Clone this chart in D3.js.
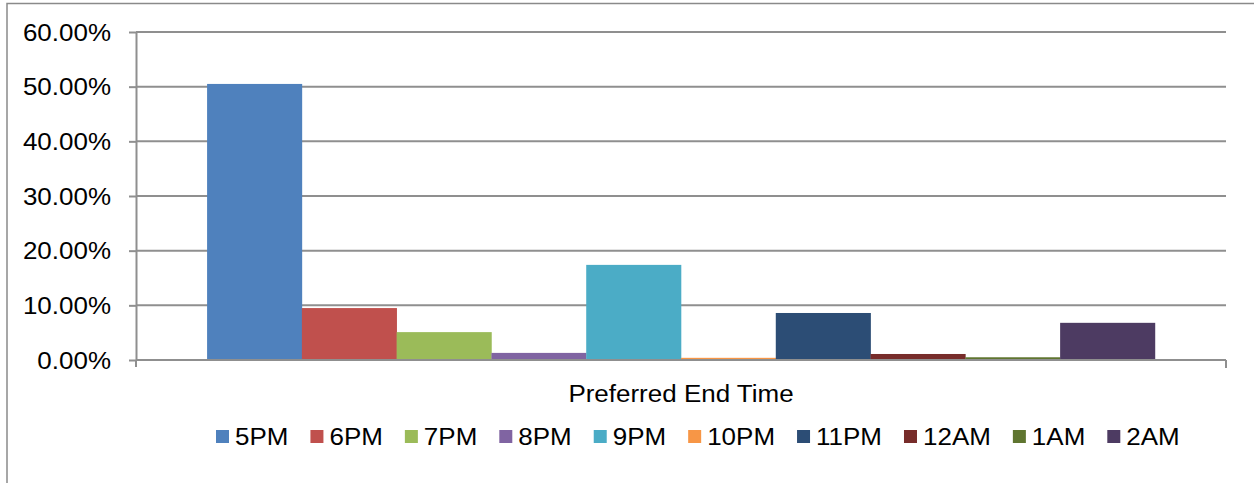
<!DOCTYPE html>
<html><head><meta charset="utf-8">
<script src="https://cdn.jsdelivr.net/npm/d3@7"></script>
<style>
html,body{margin:0;padding:0;background:#fff;}
svg{display:block;}
text{font-family:"Liberation Sans",Arial,sans-serif;fill:#000;}
</style></head>
<body>
<svg id="chart" width="1254" height="483"></svg>
<script>
const category = "Preferred End Time";
const seriesNames = ["5PM","6PM","7PM","8PM","9PM","10PM","11PM","12AM","1AM","2AM"];
const seriesValues = [0.505, 0.095, 0.051, 0.013, 0.174, 0.004, 0.086, 0.011, 0.005, 0.068];
const seriesColors = ["#4F81BD","#C0504D","#9BBB59","#8064A2","#4BACC6","#F79646","#2C4D75","#772C2A","#5F7530","#4D3B62"];
const yTicks = [0, 0.1, 0.2, 0.3, 0.4, 0.5, 0.6];

(function(){
const svg = d3.select("#chart");
const FS = 23, SX = 1.13;
const gridColor = "#8f8f8f";

// outer border
svg.append("path").attr("d","M7,490 L7,3.5 L1260,3.5").attr("fill","none").attr("stroke","#8a8a8a").attr("stroke-width",1.5);

const pLeft = 136, pRight = 1226, pTop = 32, pBottom = 360;
const y = d3.scaleLinear().domain([0, 0.6]).range([pBottom, pTop]);
const x0 = d3.scaleBand().domain([category]).range([pLeft, pRight]).paddingInner(0).paddingOuter(0.075);
const x1 = d3.scaleBand().domain(seriesNames).range([0, x0.bandwidth()]);

// gridlines
svg.append("g").selectAll("line").data(yTicks).join("line")
  .attr("x1", pLeft).attr("x2", pRight)
  .attr("y1", d => y(d)).attr("y2", d => y(d))
  .attr("stroke", gridColor).attr("stroke-width", 2);

// y axis
const yAxis = svg.append("g").attr("transform", `translate(${pLeft},0)`)
  .call(d3.axisLeft(y).tickValues(yTicks).tickSize(7).tickSizeOuter(0).tickFormat(d3.format(".2%")));
yAxis.select(".domain").attr("stroke", gridColor).attr("stroke-width", 2);
yAxis.selectAll(".tick line").attr("stroke", gridColor).attr("stroke-width", 2);
yAxis.selectAll(".tick text")
  .attr("x", null).attr("dy", null)
  .attr("transform", "translate(-25,8) scale(" + SX + ",1)")
  .style("font-size", FS + "px").style("font-family", '"Liberation Sans",Arial,sans-serif')
  .attr("fill", "#000");

// bars
const g = svg.append("g");
g.selectAll("rect").data(seriesNames).join("rect")
  .attr("x", (d) => x0(category) + x1(d))
  .attr("width", x1.bandwidth() + 0.3)
  .attr("y", (d, i) => y(seriesValues[i]))
  .attr("height", (d, i) => y(0) - y(seriesValues[i]))
  .attr("fill", (d, i) => seriesColors[i]);

// baseline redraw + ticks below
svg.append("line").attr("x1", pLeft).attr("x2", pRight).attr("y1", y(0)).attr("y2", y(0)).attr("stroke", gridColor).attr("stroke-width", 2);
svg.append("line").attr("x1", pLeft).attr("x2", pLeft).attr("y1", y(0)).attr("y2", y(0) + 7).attr("stroke", gridColor).attr("stroke-width", 2);
svg.append("line").attr("x1", pRight).attr("x2", pRight).attr("y1", y(0)).attr("y2", y(0) + 8).attr("stroke", gridColor).attr("stroke-width", 2);

// axis title
svg.append("text").text(category)
  .attr("text-anchor", "middle")
  .attr("transform", `translate(${(pLeft + pRight) / 2},402) scale(${SX},1)`)
  .style("font-size", FS + "px");

// legend
const leg = svg.append("g");
let lx = 216;
seriesNames.forEach((name, i) => {
  leg.append("rect").attr("x", lx).attr("y", 430).attr("width", 13).attr("height", 13).attr("fill", seriesColors[i]);
  const t = leg.append("text").text(name)
    .attr("transform", `translate(${lx + 19},445) scale(${SX},1)`)
    .style("font-size", FS + "px");
  const w = t.node().getComputedTextLength() * SX;
  lx += 19 + w + 22;
});
})();
</script>
</body></html>
